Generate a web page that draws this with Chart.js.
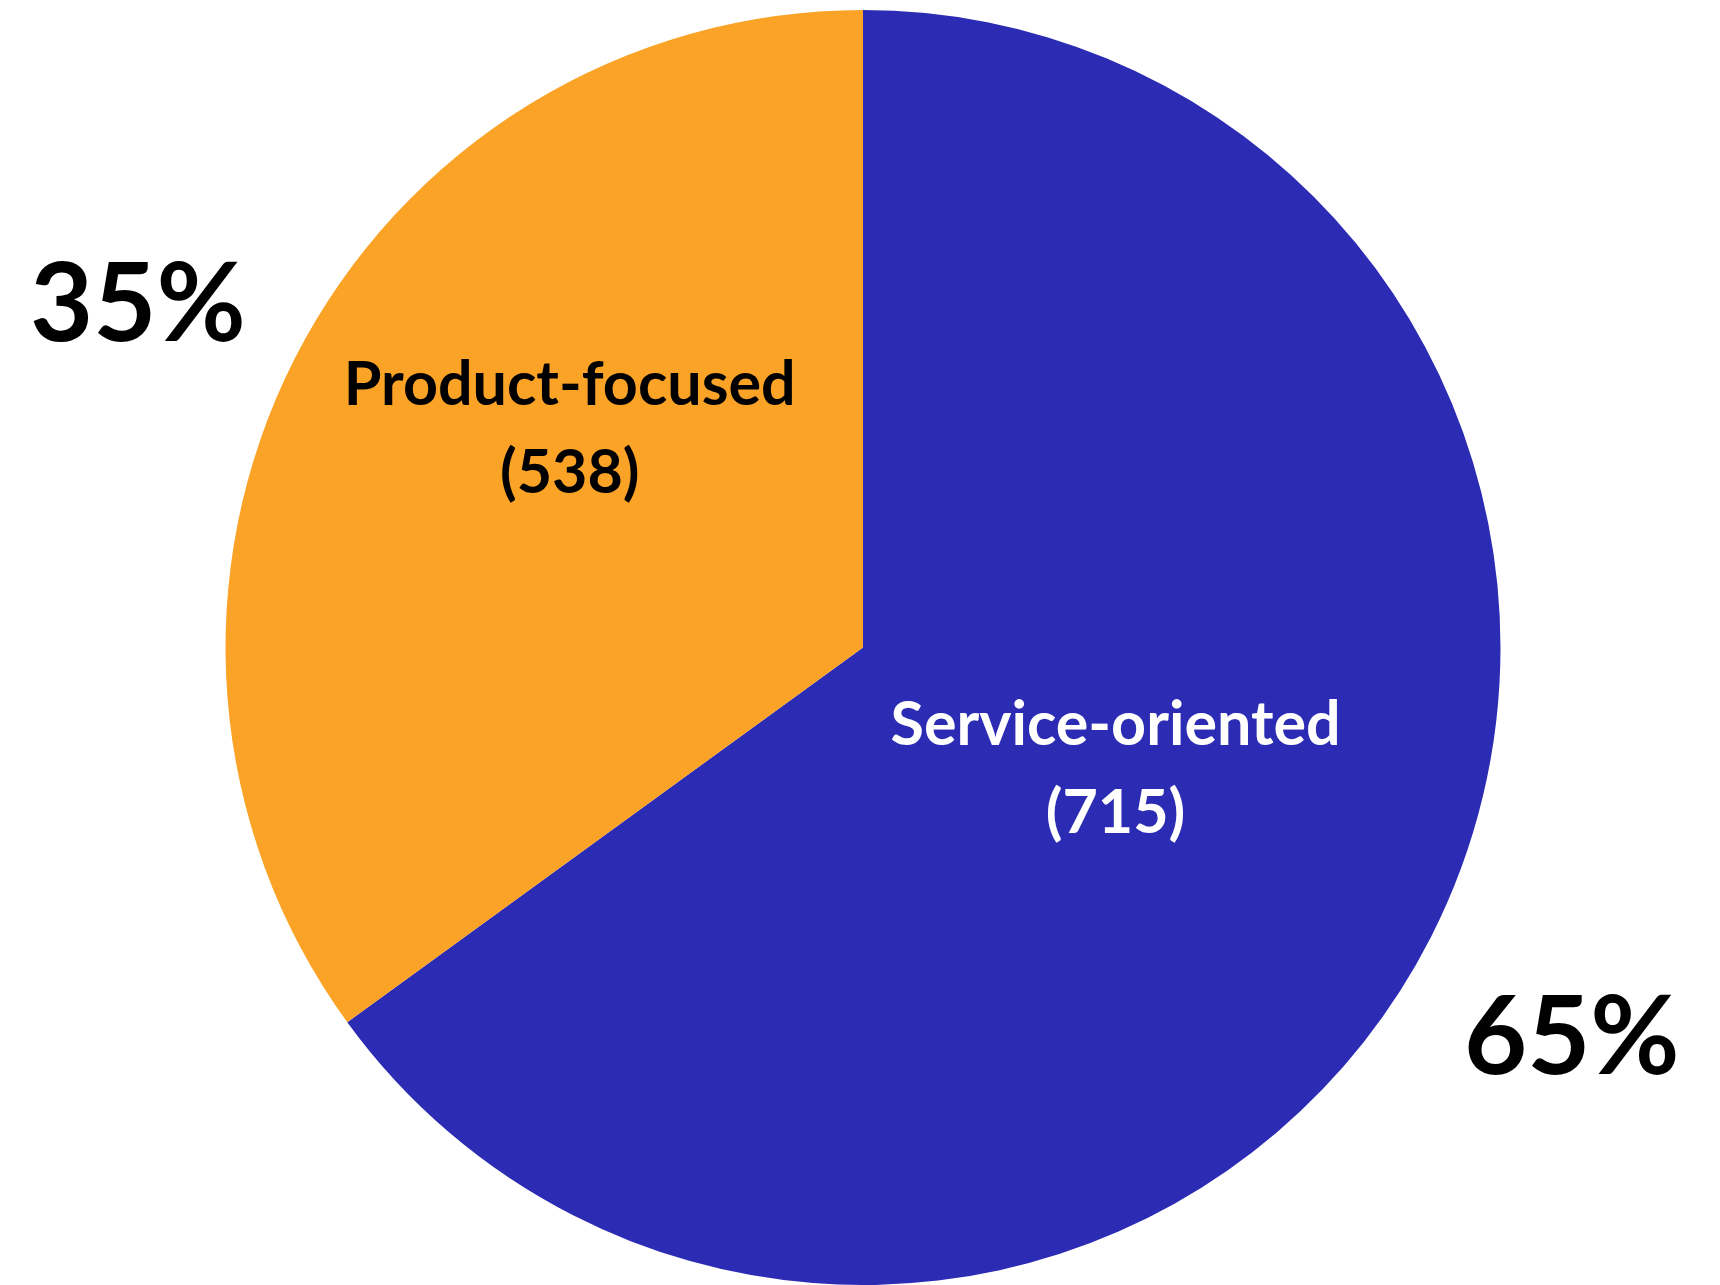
<!DOCTYPE html>
<html>
<head>
<meta charset="utf-8">
<script src="https://cdn.jsdelivr.net/npm/chart.js@4/dist/chart.umd.min.js"></script>
<style>
  html, body { margin: 0; padding: 0; background: #ffffff; }
  #wrap { width: 1720px; height: 1285px; position: relative; }
</style>
</head>
<body>
<div id="wrap"><canvas id="c" width="1720" height="1285"></canvas></div>
<script>
const categories = ["Service-oriented", "Product-focused"];
const counts = [715, 538];
const percents = [65, 35];
const colors = ["#2C2BB4", "#FBA326"];
const innerTextColors = ["#FFFFFF", "#000000"];

// label placement in polar terms relative to each arc (fraction of radius, angle offset deg)
const innerPos = [[0.44, -1.2], [0.573, 9.6]];
const outerPos = [[1.27, 1.9], [1.2575, -1.75]];

const labelPlugin = {
  id: 'sliceLabels',
  afterDatasetsDraw(chart) {
    const ctx = chart.ctx;
    const meta = chart.getDatasetMeta(0);
    meta.data.forEach((arc, i) => {
      const p = arc.getProps(['x', 'y', 'startAngle', 'endAngle', 'outerRadius'], true);
      const mid = (p.startAngle + p.endAngle) / 2;
      ctx.save();
      ctx.textAlign = 'center';
      ctx.textBaseline = 'middle';
      // inner label
      let a = mid + innerPos[i][1] * Math.PI / 180;
      let r = p.outerRadius * innerPos[i][0];
      let cx = p.x + Math.cos(a) * r, cy = p.y + Math.sin(a) * r;
      ctx.fillStyle = innerTextColors[i];
      ctx.font = '700 61px Lato';
      ctx.fillText(categories[i], cx, cy - 44);
      ctx.fillText('(' + counts[i] + ')', cx, cy + 44);
      // outer percent label
      a = mid + outerPos[i][1] * Math.PI / 180;
      r = p.outerRadius * outerPos[i][0];
      cx = p.x + Math.cos(a) * r; cy = p.y + Math.sin(a) * r;
      ctx.fillStyle = '#000000';
      ctx.font = '700 109px Lato';
      ctx.fillText(percents[i] + '%', cx, cy);
      ctx.restore();
    });
  }
};

new Chart(document.getElementById('c'), {
  type: 'pie',
  data: {
    labels: categories,
    datasets: [{
      data: percents,
      backgroundColor: colors,
      borderWidth: 0
    }]
  },
  options: {
    responsive: false,
    animation: false,
    layout: { padding: { top: 10, bottom: 0, left: 225, right: 219 } },
    plugins: {
      legend: { display: false },
      tooltip: { enabled: false }
    }
  },
  plugins: [labelPlugin]
});
</script>
</body>
</html>
